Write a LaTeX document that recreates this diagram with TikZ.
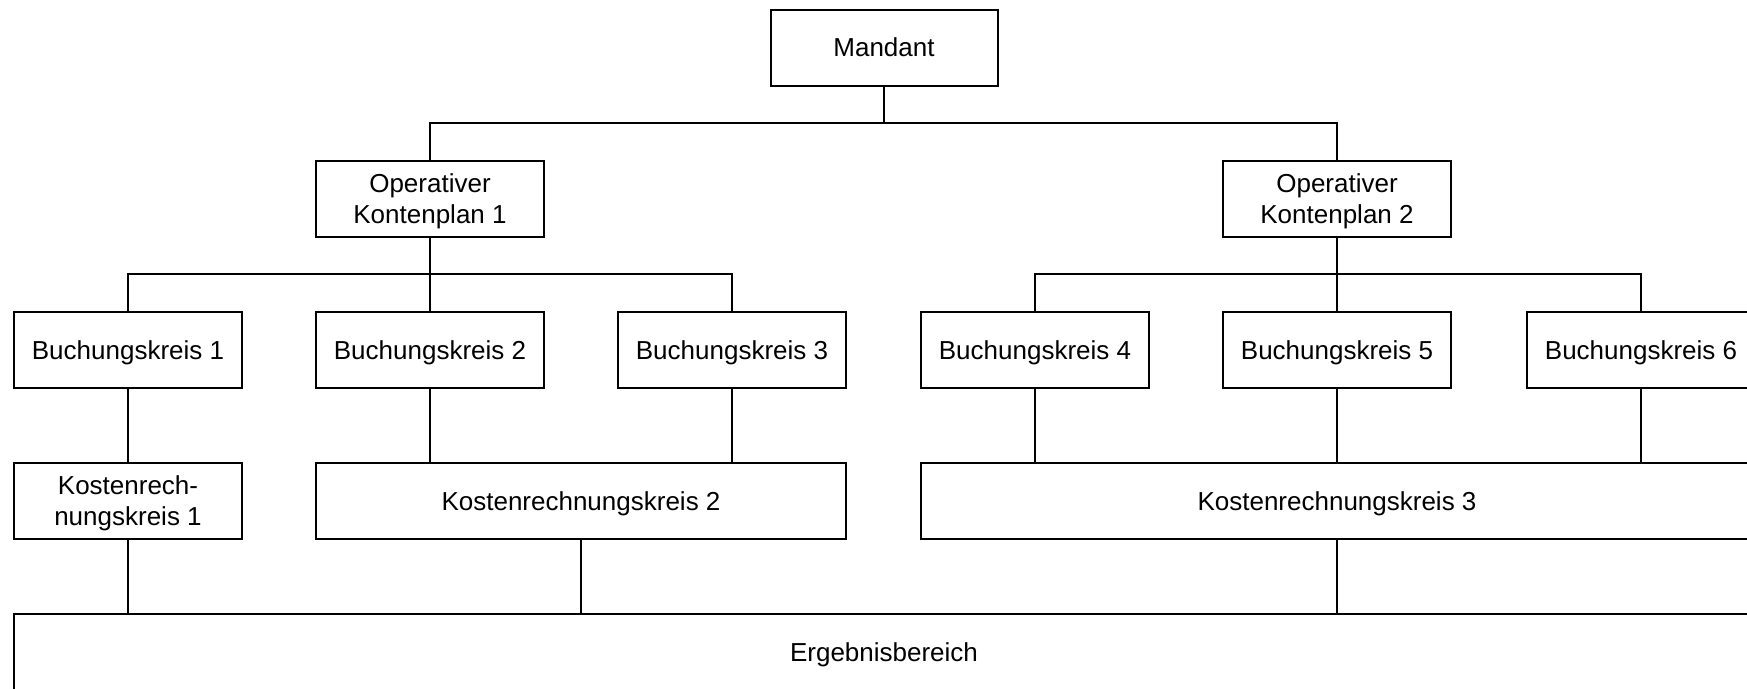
\documentclass[tikz,border=0pt]{standalone}
\usepackage{fontspec}
\setmainfont{Liberation Sans}
\begin{document}
\begin{tikzpicture}[x=1pt,y=-1pt,
  box/.style={draw,line width=2pt,rectangle,inner sep=0pt,minimum height=76pt,align=center,
    font=\fontsize{26}{31}\selectfont,text height=18.6pt,text depth=0pt},
  box2/.style={box,text height=49.6pt},
  link/.style={line width=2pt}]
\useasboundingbox (0,0) rectangle (1747,688);
\clip (0,0) rectangle (1747,688);
\node[box,minimum width=227pt] (M) at (884,47.5) {Mandant};
\node[box2,minimum width=228pt] (O1) at (430,199) {Operativer\\Kontenplan 1};
\node[box2,minimum width=228pt] (O2) at (1337,199) {Operativer\\Kontenplan 2};
\node[box,minimum width=228pt] (B1) at (128,350) {Buchungskreis 1};
\node[box,minimum width=228pt] (B2) at (430,350) {Buchungskreis 2};
\node[box,minimum width=228pt] (B3) at (732,350) {Buchungskreis 3};
\node[box,minimum width=228pt] (B4) at (1035,350) {Buchungskreis 4};
\node[box,minimum width=228pt] (B5) at (1337,350) {Buchungskreis 5};
\node[box,minimum width=228pt] (B6) at (1641,350) {Buchungskreis 6};
\node[box2,minimum width=228pt] (K1) at (128,501) {Kostenrech-\\nungskreis 1};
\node[box,minimum width=530pt] (K2) at (581,501) {Kostenrechnungskreis 2};
\node[box,minimum width=832pt] (K3) at (1337,501) {Kostenrechnungskreis 3};
\node[box,minimum width=1740pt] (E) at (884,652) {Ergebnisbereich};
\coordinate (j1) at (884,123);
\coordinate (j2) at (430,274);
\coordinate (j3) at (1337,274);
\draw[link] (M.south) -- (j1);
\draw[link] (O1.north) |- (j1) -| (O2.north);
\draw[link] (O1.south) -- (B2.north);
\draw[link] (B1.north) |- (j2) -| (B3.north);
\draw[link] (O2.south) -- (B5.north);
\draw[link] (B4.north) |- (j3) -| (B6.north);
\draw[link] (B1.south) -- (K1.north);
\draw[link] (B2.south) -- (B2.south |- K2.north);
\draw[link] (B3.south) -- (B3.south |- K2.north);
\draw[link] (B4.south) -- (B4.south |- K3.north);
\draw[link] (B5.south) -- (B5.south |- K3.north);
\draw[link] (B6.south) -- (B6.south |- K3.north);
\draw[link] (K1.south) -- (K1.south |- E.north);
\draw[link] (K2.south) -- (K2.south |- E.north);
\draw[link] (K3.south) -- (K3.south |- E.north);
\end{tikzpicture}
\end{document}
